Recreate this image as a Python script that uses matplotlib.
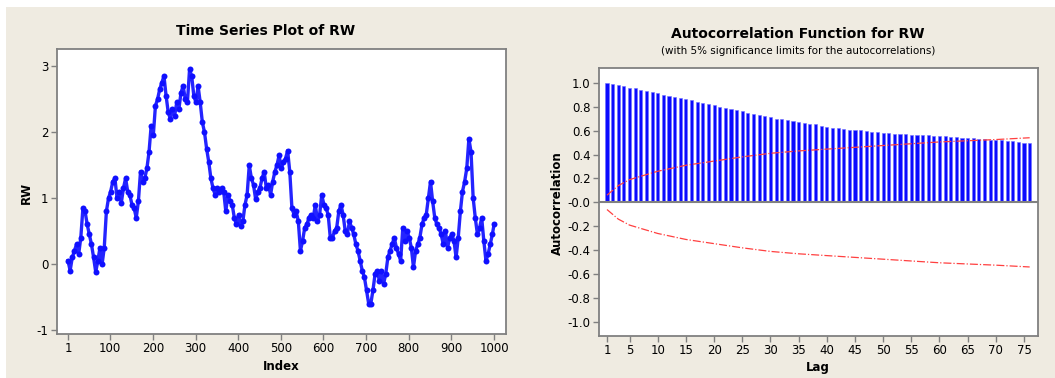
import numpy as np
import matplotlib.pyplot as plt
from matplotlib.patches import Rectangle

# Random walk values (every 5th index, plus the last one)
index = list(range(1, 1000, 5)) + [1000]
rw = [0.05, -0.10, 0.10, 0.20, 0.30, 0.15, 0.40, 0.85, 0.80, 0.60,
      0.45, 0.30, 0.10, -0.12, 0.05, 0.25, 0.00, 0.25, 0.80, 1.00,
      1.10, 1.25, 1.30, 1.00, 1.10, 0.93, 1.15, 1.30, 1.10, 1.05,
      0.90, 0.85, 0.70, 0.95, 1.40, 1.25, 1.30, 1.45, 1.70, 2.10,
      1.95, 2.40, 2.50, 2.65, 2.75, 2.85, 2.55, 2.30, 2.20, 2.35,
      2.25, 2.45, 2.35, 2.60, 2.70, 2.50, 2.45, 2.95, 2.85, 2.55,
      2.45, 2.70, 2.45, 2.15, 2.00, 1.75, 1.55, 1.30, 1.15, 1.05,
      1.15, 1.10, 1.15, 1.10, 0.80, 1.05, 0.95, 0.90, 0.70, 0.60,
      0.75, 0.58, 0.65, 0.90, 1.05, 1.50, 1.30, 1.20, 0.98, 1.10,
      1.15, 1.30, 1.40, 1.15, 1.20, 1.05, 1.25, 1.40, 1.50, 1.65,
      1.45, 1.55, 1.60, 1.72, 1.40, 0.85, 0.75, 0.80, 0.65, 0.20,
      0.35, 0.55, 0.60, 0.70, 0.75, 0.70, 0.90, 0.65, 0.75, 1.05,
      0.90, 0.85, 0.75, 0.40, 0.40, 0.50, 0.55, 0.80, 0.90, 0.75,
      0.50, 0.45, 0.65, 0.55, 0.45, 0.30, 0.20, 0.05, -0.10, -0.20,
      -0.40, -0.60, -0.60, -0.40, -0.15, -0.10, -0.25, -0.10, -0.30, -0.15,
      0.10, 0.20, 0.30, 0.40, 0.25, 0.15, 0.05, 0.55, 0.35, 0.50,
      0.40, 0.25, -0.05, 0.20, 0.30, 0.40, 0.60, 0.70, 0.75, 1.00,
      1.25, 0.95, 0.70, 0.60, 0.55, 0.45, 0.30, 0.50, 0.25, 0.40,
      0.45, 0.35, 0.10, 0.40, 0.80, 1.10, 1.25, 1.45, 1.90, 1.70,
      1.00, 0.70, 0.45, 0.55, 0.70, 0.35, 0.05, 0.15, 0.30, 0.45,
      0.60]

# Autocorrelations for lags 1..76
lags = list(range(1, 77))
acf = [0.995, 0.986, 0.978, 0.972, 0.960, 0.953, 0.940, 0.930, 0.920, 0.910,
       0.897, 0.888, 0.880, 0.870, 0.860, 0.852, 0.840, 0.833, 0.820, 0.810,
       0.800, 0.790, 0.783, 0.770, 0.760, 0.750, 0.740, 0.730, 0.720, 0.710,
       0.700, 0.694, 0.688, 0.680, 0.671, 0.666, 0.657, 0.652, 0.640, 0.632,
       0.624, 0.618, 0.613, 0.607, 0.604, 0.602, 0.596, 0.590, 0.585, 0.582,
       0.577, 0.574, 0.571, 0.568, 0.565, 0.565, 0.563, 0.560, 0.557, 0.554,
       0.552, 0.549, 0.546, 0.540, 0.538, 0.535, 0.532, 0.529, 0.524, 0.520,
       0.518, 0.515, 0.510, 0.504, 0.496, 0.493]

# 5% significance limits read at a few lags
limit_lags = [1, 3, 5, 10, 15, 20, 25, 30, 35, 40, 45, 50, 55, 60, 65, 70, 76]
limit_vals = [0.06, 0.14, 0.19, 0.26, 0.31, 0.345, 0.38, 0.41, 0.43, 0.445,
              0.46, 0.475, 0.49, 0.505, 0.515, 0.525, 0.54]

beige = '#efebe1'
frame = '#808080'
blue = '#1010ff'

plt.rcParams['font.family'] = 'DejaVu Sans'
plt.rcParams['axes.unicode_minus'] = False

fig = plt.figure(figsize=(10.55, 3.78), dpi=100, facecolor='white')
# beige background, white strip on top and left
fig.patches.append(Rectangle((6 / 1055, 0), 1, 1 - 7 / 378, transform=fig.transFigure,
                             facecolor=beige, edgecolor='none', zorder=-1))

## TIME SERIES PLOT ##
ax1 = fig.add_axes([57 / 1055, 1 - 334 / 378, 449 / 1055, 285 / 378])
# thick line so the dense cloud of dots reads as one band
ax1.plot(index, rw, color='#2424ff', lw=2.4, solid_joinstyle='round', zorder=2)
ax1.plot(index, rw, linestyle='none', marker='o', markersize=4.3,
         color=blue, markeredgewidth=0, zorder=3)
ax1.set_xlim(-24.8, 1028)
ax1.set_ylim(-1.06, 3.26)
ax1.set_xticks([1, 100, 200, 300, 400, 500, 600, 700, 800, 900, 1000])
ax1.set_yticks([-1, 0, 1, 2, 3])
fig.text(266 / 1055, 1 - 31 / 378, 'Time Series Plot of RW', ha='center', va='center',
         fontsize=10, fontweight='bold')
fig.text(281 / 1055, 1 - 366 / 378, 'Index', ha='center', va='center',
         fontsize=8.5, fontweight='bold')
fig.text(26 / 1055, 1 - 193 / 378, 'RW', ha='center', va='center', rotation=90,
         fontsize=8.5, fontweight='bold')

## ACF PLOT ##
ax2 = fig.add_axes([599 / 1055, 1 - 336 / 378, 439 / 1055, 268 / 378])
ax2.bar(lags, acf, width=0.55, color='#0a0aff', edgecolor='#7070ff', linewidth=0.4, zorder=2)
ax2.axhline(0, color=frame, lw=1.5, zorder=3)
ax2.plot(limit_lags, limit_vals, color='#ff4040', lw=0.9, linestyle='-.', zorder=4)
ax2.plot(limit_lags, [-v for v in limit_vals], color='#ff4040', lw=0.9, linestyle='-.', zorder=4)
ax2.set_xlim(-0.42, 77.48)
ax2.set_ylim(-1.117, 1.123)
ax2.set_xticks([1, 5, 10, 15, 20, 25, 30, 35, 40, 45, 50, 55, 60, 65, 70, 75])
yt = np.round(np.arange(-1.0, 1.01, 0.2), 1)
ax2.set_yticks(yt)
ax2.set_yticklabels(['%.1f' % v for v in yt])
fig.text(798 / 1055, 1 - 34 / 378, 'Autocorrelation Function for RW', ha='center', va='center',
         fontsize=10, fontweight='bold')
fig.text(798 / 1055, 1 - 51 / 378, '(with 5% significance limits for the autocorrelations)',
         ha='center', va='center', fontsize=7.5)
fig.text(818 / 1055, 1 - 367 / 378, 'Lag', ha='center', va='center',
         fontsize=8.5, fontweight='bold')
fig.text(557 / 1055, 1 - 203 / 378, 'Autocorrelation', ha='center', va='center', rotation=90,
         fontsize=8.5, fontweight='bold')

# Common styling
for ax in [ax1, ax2]:
    ax.set_facecolor('white')
    for s in ax.spines.values():
        s.set_color(frame)
        s.set_linewidth(1.3)
    ax.tick_params(direction='out', length=4, width=1, color=frame,
                   labelsize=8.5, pad=2)

plt.savefig('out.png', dpi=100, facecolor=fig.get_facecolor())
